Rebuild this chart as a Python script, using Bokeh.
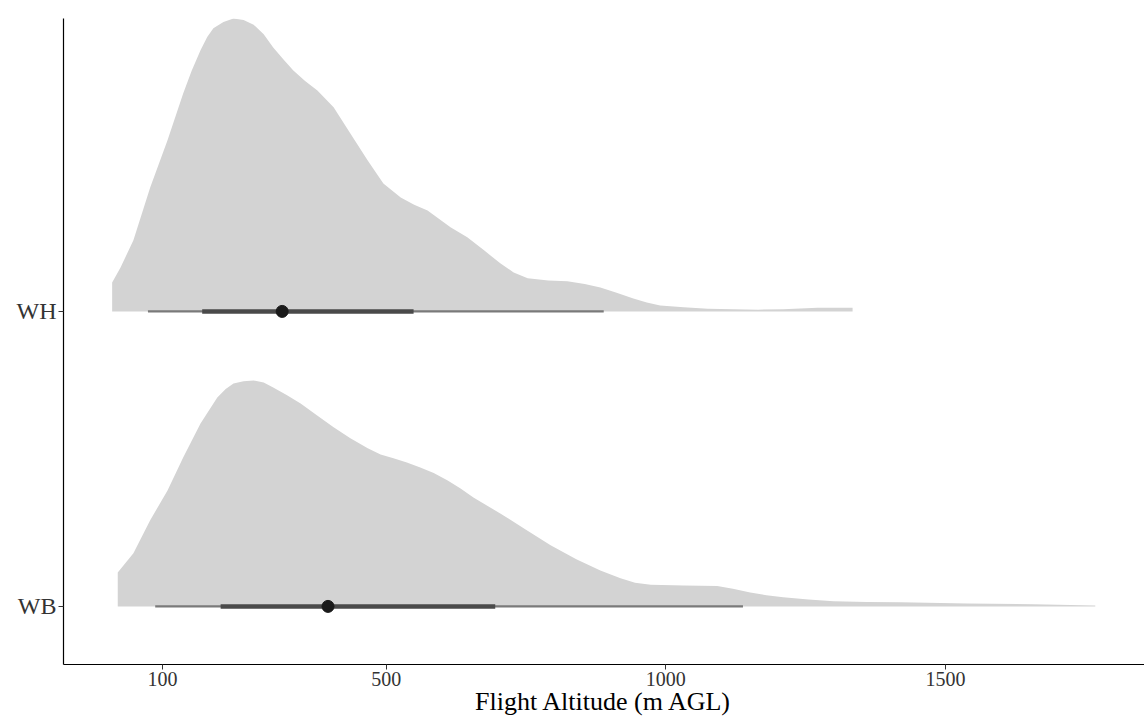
from bokeh.plotting import figure
from bokeh.models import ColumnDataSource, FixedTicker, Range1d
from bokeh.embed import file_html
from bokeh.resources import INLINE

# ---- data ----
groups = ["WB", "WH"]
x_title = "Flight Altitude (m AGL)"

# WH density (altitude in m AGL, scaled density height)
wh_alt = [10, 25, 48, 78, 109, 137, 152, 168, 180, 191, 209, 227, 245, 263, 281, 298,
          316, 334, 355, 377, 406, 436, 467, 495, 526, 550, 574, 615, 645, 675, 704, 728,
          753, 790, 824, 855, 883, 912, 942, 966, 990, 1032, 1075, 1121, 1165, 1210, 1271, 1334]
wh_dens = [0.098, 0.149, 0.241, 0.420, 0.580, 0.739, 0.815, 0.885, 0.930, 0.960, 0.981,
           0.993, 0.988, 0.972, 0.940, 0.895, 0.855, 0.817, 0.781, 0.749, 0.692, 0.603,
           0.512, 0.434, 0.386, 0.362, 0.342, 0.285, 0.251, 0.207, 0.163, 0.132, 0.112,
           0.105, 0.102, 0.093, 0.081, 0.063, 0.044, 0.030, 0.020, 0.014, 0.009, 0.007,
           0.006, 0.007, 0.012, 0.012]

# WB density
wb_alt = [20, 48, 78, 109, 137, 168, 198, 213, 227, 245, 263, 281, 298, 322, 347, 376,
          406, 436, 467, 490, 513, 537, 561, 585, 610, 633, 656, 680, 704, 750, 794, 840,
          883, 919, 945, 973, 1032, 1092, 1120, 1151, 1180, 1210, 1255, 1300, 1360, 1420,
          1539, 1657, 1768]
wb_dens = [0.115, 0.180, 0.292, 0.393, 0.505, 0.620, 0.708, 0.737, 0.756, 0.763, 0.766,
           0.759, 0.742, 0.717, 0.688, 0.648, 0.607, 0.570, 0.536, 0.515, 0.502, 0.488,
           0.471, 0.452, 0.427, 0.400, 0.369, 0.342, 0.315, 0.260, 0.207, 0.160, 0.122,
           0.095, 0.080, 0.073, 0.071, 0.069, 0.060, 0.047, 0.038, 0.031, 0.023, 0.017,
           0.015, 0.014, 0.010, 0.007, 0.003]

# interval summaries: [WB, WH]
outer_lo = [87, 74]
outer_hi = [1138, 889]
inner_lo = [204, 171]
inner_hi = [695, 549]
point_est = [396, 314]

xticks = [100, 500, 1000, 1500]

# ---- figure ----
p = figure(width=1144, height=719, output_backend="svg", toolbar_location=None,
           x_range=Range1d(-77, 1856), y_range=Range1d(0.803, 2.993),
           min_border_left=63, min_border_right=0, min_border_top=18, min_border_bottom=55)
p.background_fill_color = "white"
p.border_fill_color = "white"
p.outline_line_color = None
p.xgrid.visible = False
p.ygrid.visible = False

slab_fill = "#d3d3d3"
for g, alt, dens in [("WB", wb_alt, wb_dens), ("WH", wh_alt, wh_dens)]:
    base = groups.index(g) + 1
    src = ColumnDataSource(dict(x=alt, y1=[base] * len(alt), y2=[base + d for d in dens]))
    p.varea(x="x", y1="y1", y2="y2", source=src, fill_color=slab_fill)

ypos = [groups.index(g) + 1 for g in groups]
iv = ColumnDataSource(dict(y=ypos, olo=outer_lo, ohi=outer_hi, ilo=inner_lo, ihi=inner_hi, pt=point_est))
p.segment(x0="olo", x1="ohi", y0="y", y1="y", source=iv, line_color="#7a7a7a", line_width=2.2, line_cap="butt")
p.segment(x0="ilo", x1="ihi", y0="y", y1="y", source=iv, line_color="#4a4a4a", line_width=4.5, line_cap="butt")
p.scatter(x="pt", y="y", source=iv, size=12, fill_color="#1a1a1a", line_color="#1a1a1a")

# axes
font = "Liberation Serif"
p.xaxis.ticker = FixedTicker(ticks=xticks)
p.yaxis.ticker = FixedTicker(ticks=ypos)
p.yaxis.major_label_overrides = {i + 1: g for i, g in enumerate(groups)}
p.xaxis.axis_label = x_title
for ax in (p.xaxis, p.yaxis):
    ax.axis_line_color = "black"
    ax.axis_line_width = 1.2
    ax.major_tick_line_color = "#333333"
    ax.major_tick_out = 5
    ax.major_tick_in = 0
    ax.minor_tick_line_color = None
    ax.major_label_text_font = font
    ax.major_label_text_color = "#333333"
    ax.axis_label_text_font = font
    ax.axis_label_text_font_size = "26px"
    ax.axis_label_text_font_style = "normal"
    ax.axis_label_text_color = "black"
p.xaxis.major_label_text_font_size = "20px"
p.yaxis.major_label_text_font_size = "24px"
p.xaxis.major_label_standoff = 2
p.xaxis.axis_label_standoff = -2
p.yaxis.major_label_standoff = 2

open("out.html", "w").write(file_html(p, INLINE))
